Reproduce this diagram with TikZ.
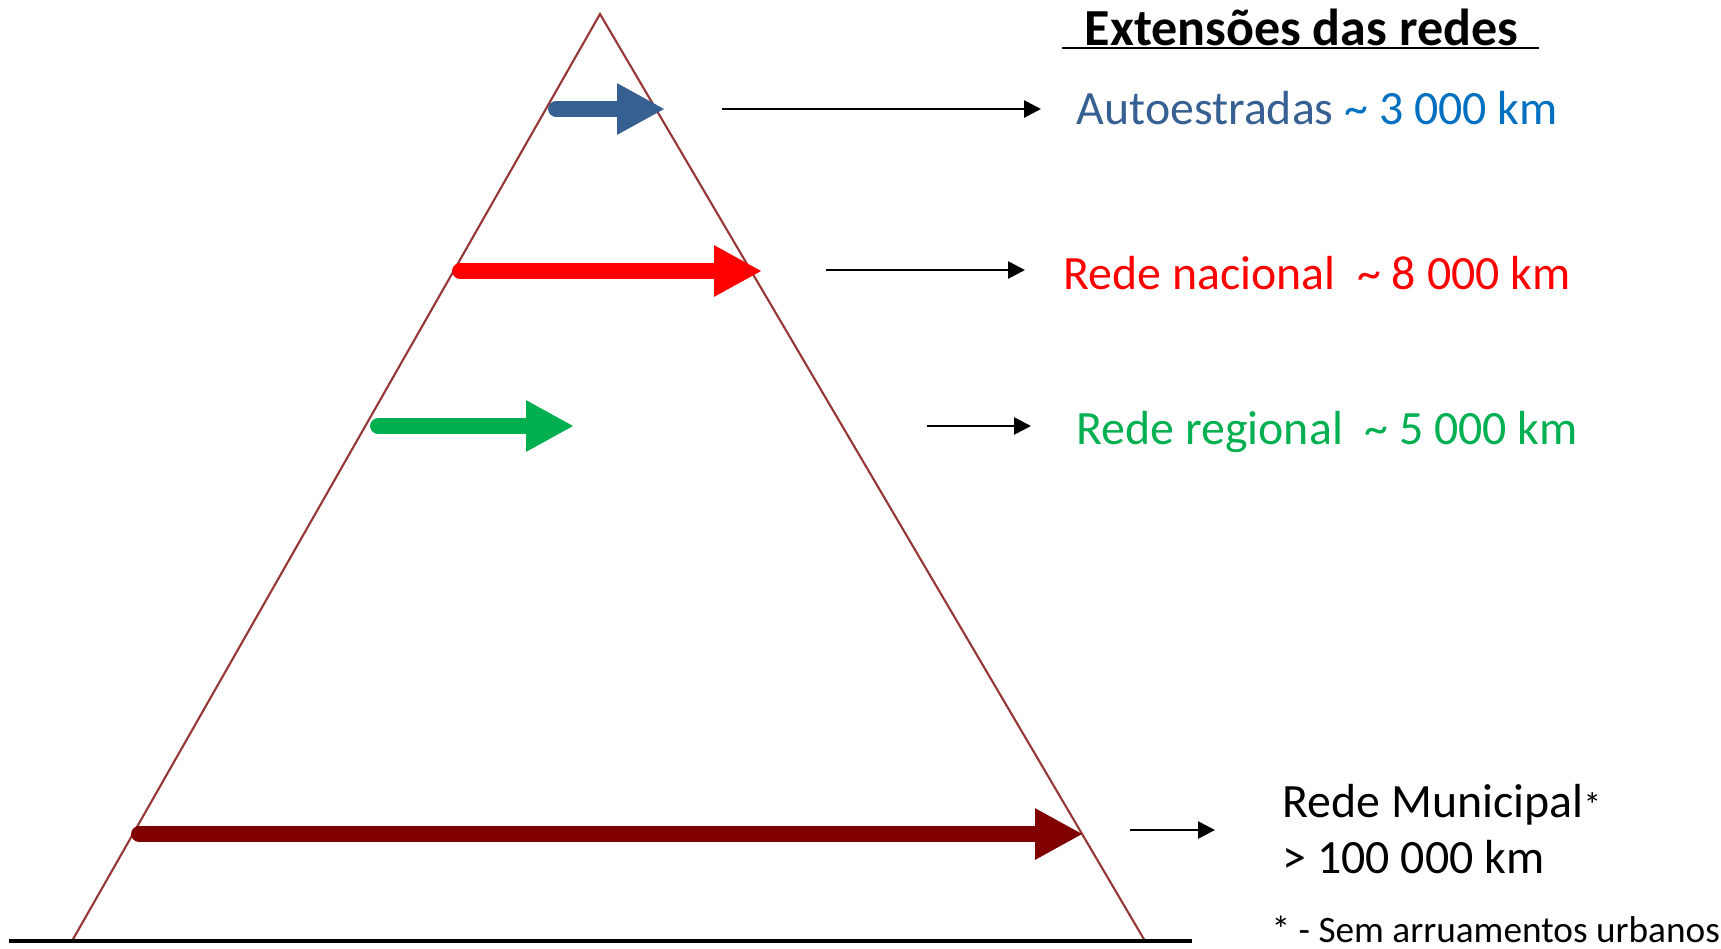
\documentclass[tikz,border=0pt]{standalone}
\usepackage{fontspec}
\setmainfont{Carlito}
\usetikzlibrary{arrows.meta}
\definecolor{pyrline}{HTML}{953735}
\definecolor{autoblue}{HTML}{376092}
\definecolor{numblue}{HTML}{0070C0}
\definecolor{natred}{HTML}{FF0000}
\definecolor{reggreen}{HTML}{00B050}
\definecolor{munred}{HTML}{800000}
\newcommand{\tild}{\textasciitilde}
\begin{document}
\begin{tikzpicture}[x=0.01cm,y=-0.01cm,
        block/.style={line width=4.5pt,line cap=round,-{Triangle[length=13.6pt,width=13.6pt]}},
        pointer/.style={line width=0.75pt,-{Triangle[length=4.8pt,width=4.8pt]}},
        lbl/.style={anchor=base west,inner sep=0pt,font=\fontsize{13.6}{16}\selectfont}]
    \useasboundingbox (0,0) rectangle (1721,948);
    % pyramid
    \coordinate (apex) at (600,14);
    \coordinate (bl) at (72,941);
    \coordinate (br) at (1145,941);
    \draw[pyrline,line width=0.6pt] (bl) -- (apex) -- (br);
    \draw[line width=0.9pt] (9,941) -- (1192,941);
    % extension arrows
    \draw[block,autoblue] (556,109) -- (665,109);
    \draw[block,natred] (460,271) -- (762,271);
    \draw[block,reggreen] (378,426) -- (574,426);
    \draw[block,munred] (139,834) -- (1083,834);
    % labels
    \node[anchor=base west,inner sep=0pt,font=\fontsize{14.8}{18}\selectfont\bfseries] (title) at (1084,45) {Extensões das redes};
    \draw[line width=0.8pt] (1062,48) -- (1539,48);
    \node[lbl,autoblue] (auto) at (1076,124) {Autoestradas \textcolor{numblue}{\tild{} 3 000 km}};
    \node[lbl,natred] (nac) at (1063,289) {Rede nacional\ \ \tild{} 8 000 km};
    \node[lbl,reggreen] (reg) at (1076,444) {Rede regional\ \ \tild{} 5 000 km};
    \node[lbl] (mun) at (1282,817) {Rede Municipal{\fontsize{10}{12}\selectfont*}};
    \node[lbl] (munkm) at (1282,873) {> 100 000 km};
    \node[anchor=base west,inner sep=0pt,font=\fontsize{10.6}{13}\selectfont] (note) at (1271,942) {* - Sem arruamentos urbanos};
    % pointers
    \coordinate (s1) at (722,109);   \coordinate (e1) at (1041,109);
    \coordinate (s2) at (826,270);   \coordinate (e2) at (1025,270);
    \coordinate (s3) at (927,426);   \coordinate (e3) at (1031,426);
    \coordinate (s4) at (1130,830);  \coordinate (e4) at (1215,830);
    \foreach \a in {1,...,4}
        \draw[pointer] (s\a) -- (e\a);
\end{tikzpicture}
\end{document}
